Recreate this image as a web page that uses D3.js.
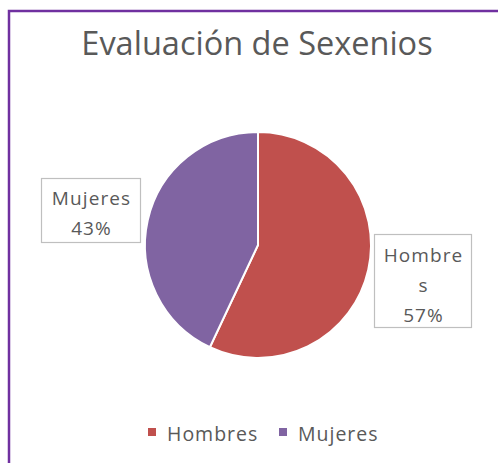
<!DOCTYPE html>
<html lang="es">
<head>
<meta charset="utf-8">
<title>Evaluación de Sexenios</title>
<script src="https://cdn.jsdelivr.net/npm/d3@7"></script>
<style>
  body { margin: 0; background: #fff; }
  text { font-family: "Open Sans", "DejaVu Sans", sans-serif; fill: #595959; }
</style>
</head>
<body>
<script>
// data
var categories = ["Hombres", "Mujeres"];
var values = [57, 43];
var colors = ["#C0504D", "#8064A2"];
var labelLines = [["Hombre", "s", "57%"], ["Mujeres", "43%"]];

// layout
var width = 498, height = 463;
var cx = 258, cy = 245, radius = 113;
// label boxes: x, y, w, h, first baseline
var labelBoxes = [
  { x: 374, y: 234, w: 97, h: 93, top: 262 },
  { x: 41, y: 178, w: 99, h: 64, top: 205 }
];

var svg = d3.select("body").append("svg")
  .attr("width", width).attr("height", height);

svg.append("rect")
  .attr("x", 9).attr("y", 11)
  .attr("width", width + 20).attr("height", height + 20)
  .attr("fill", "none")
  .attr("stroke", "#7030A0")
  .attr("stroke-width", 2.5);

svg.append("text")
  .attr("x", 257).attr("y", 55)
  .attr("text-anchor", "middle")
  .style("font-size", "32.5px")
  .text("Evaluación de Sexenios");

var pie = d3.pie().sort(null).value(function (d) { return d; });
var arc = d3.arc().innerRadius(0).outerRadius(radius);

var g = svg.append("g").attr("transform", "translate(" + cx + "," + cy + ")");
g.selectAll("path")
  .data(pie(values))
  .enter().append("path")
  .attr("d", arc)
  .attr("fill", function (d, i) { return colors[i]; })
  .attr("stroke", "#fff")
  .attr("stroke-width", 2);

// data labels
labelBoxes.forEach(function (b, i) {
  svg.append("rect")
    .attr("x", b.x + 0.5).attr("y", b.y + 0.5)
    .attr("width", b.w).attr("height", b.h)
    .attr("fill", "#fff")
    .attr("stroke", "#BFBFBF")
    .attr("stroke-width", 1.2);
  labelLines[i].forEach(function (line, j) {
    svg.append("text")
      .attr("x", b.x + b.w / 2 + 1)
      .attr("y", b.top + j * 30)
      .attr("text-anchor", "middle")
      .style("font-size", "19px")
      .style("letter-spacing", "1.1px")
      .text(line);
  });
});

// legend
var legendX = [148, 279];
categories.forEach(function (c, i) {
  svg.append("rect")
    .attr("x", legendX[i]).attr("y", 428)
    .attr("width", 8).attr("height", 8)
    .attr("fill", colors[i]);
  svg.append("text")
    .attr("x", legendX[i] + 19).attr("y", 441)
    .style("font-size", "19.5px")
    .style("letter-spacing", "1px")
    .text(c);
});
</script>
</body>
</html>
